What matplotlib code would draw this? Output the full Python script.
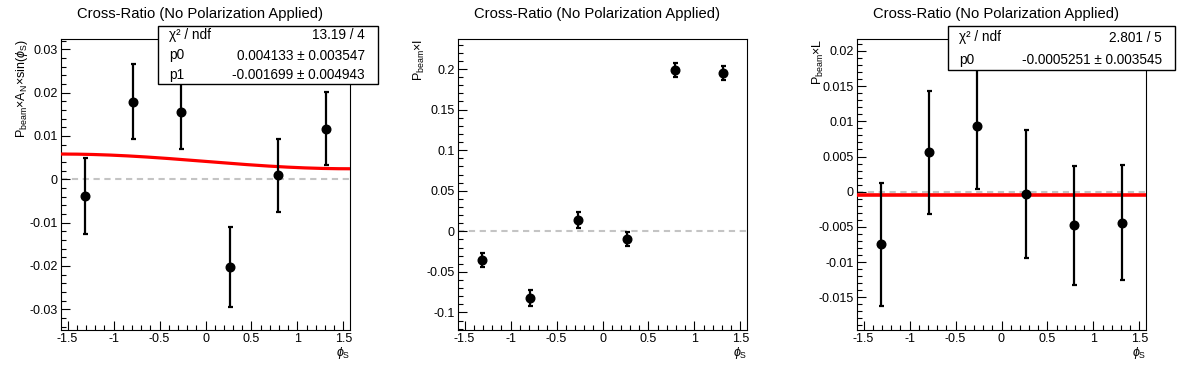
"""Cross-ratio asymmetry panels (no polarization applied), ROOT-style."""
import matplotlib
matplotlib.use("Agg")
import matplotlib.pyplot as plt
import numpy as np
from matplotlib.patches import Rectangle
from matplotlib.ticker import FuncFormatter, MultipleLocator

plt.rcParams["font.family"] = ["Liberation Sans", "DejaVu Sans"]
plt.rcParams["mathtext.fontset"] = "custom"
plt.rcParams["mathtext.rm"] = "Liberation Sans"
plt.rcParams["mathtext.it"] = "Liberation Sans:italic"
plt.rcParams["axes.unicode_minus"] = False

W, H = 1196, 372

# phi_S bin centres (6 bins over -pi/2..pi/2)
phi = [-1.309, -0.785, -0.262, 0.262, 0.785, 1.309]

# panel 1: P_beam x A_N x sin(phi_S)
an_val = [-0.0039, 0.0179, 0.0156, -0.0202, 0.0009, 0.0117]
an_err = [0.0088, 0.0087, 0.0087, 0.0092, 0.0084, 0.0084]
an_fit = [0.004133, -0.001699]  # p0 + p1*sin(phi)
an_stats = [("χ² / ndf", "13.19 / 4"),
            ("p0", "0.004133 ± 0.003547"),
            ("p1", "-0.001699 ± 0.004943")]

# panel 2: P_beam x I
i_val = [-0.0355, -0.0820, 0.0140, -0.0095, 0.1985, 0.1950]
i_err = [0.0090, 0.0095, 0.0100, 0.0090, 0.0088, 0.0090]

# panel 3: P_beam x L
l_val = [-0.0075, 0.0056, 0.0093, -0.0003, -0.0048, -0.0044]
l_err = [0.0088, 0.0087, 0.0089, 0.0091, 0.0084, 0.0082]
l_fit = [-0.0005251]
l_stats = [("χ² / ndf", "2.801 / 5"),
           ("p0", "-0.0005251 ± 0.003545")]

TITLE = "Cross-Ratio (No Polarization Applied)"
XLIM = (-1.5708, 1.5708)


def fx(px):
    return px / W


def fy(py):
    return 1 - py / H


def _fmt(v, pos):
    return "%g" % round(v, 6)


def _panel(fig, left, ylim, ymaj, ymin, ylabel, vals, errs):
    x0, x1, top, bot = left, left + 289, 39, 330
    ax = fig.add_axes([fx(x0), fy(bot), (x1 - x0) / W, (bot - top) / H])
    ax.set_xlim(*XLIM)
    ax.set_ylim(*ylim)
    ax.axhline(0, color="#c4c4c4", lw=1.5, ls=(0, (3, 2.2)), zorder=1)
    ax.errorbar(phi, vals, yerr=errs, fmt="o", color="black", ms=6.2,
                elinewidth=1.6, capsize=1.8, capthick=1.6, zorder=4)
    ax.xaxis.set_major_locator(MultipleLocator(0.5))
    ax.xaxis.set_minor_locator(MultipleLocator(0.1))
    ax.yaxis.set_major_locator(MultipleLocator(ymaj))
    ax.yaxis.set_minor_locator(MultipleLocator(ymin))
    ax.xaxis.set_major_formatter(FuncFormatter(_fmt))
    ax.yaxis.set_major_formatter(FuncFormatter(_fmt))
    ax.tick_params(which="both", direction="in", top=False, right=False,
                   labelsize=9, pad=2.5, width=0.8)
    ax.tick_params(which="major", length=6.5)
    ax.tick_params(which="minor", length=3.3)
    for s in ax.spines.values():
        s.set_linewidth(0.8)
    # title centred over the pad
    fig.text(fx(left - 60 + 199), fy(14), TITLE, ha="center", va="center", fontsize=10.6)
    ax.text(-39 / 289, 1.0, ylabel, rotation=90, ha="center", va="top",
            transform=ax.transAxes, fontsize=9)
    ax.text(1.0, -0.05, r"$\phi_{\rm S}$", ha="right", va="top",
            transform=ax.transAxes, fontsize=9)
    return ax


def _stats(fig, box, rows, row_y):
    bx0, by0, bx1, by1 = box
    fig.add_artist(Rectangle((fx(bx0), fy(by1)), (bx1 - bx0) / W, (by1 - by0) / H,
                             transform=fig.transFigure, facecolor="white",
                             edgecolor="black", lw=1.0, zorder=5))
    for (name, value), y in zip(rows, row_y):
        fig.text(fx(bx0 + 11), fy(y), name, ha="left", va="center", fontsize=9.8, zorder=6)
        fig.text(fx(bx1 - 13), fy(y), value, ha="right", va="center", fontsize=9.8, zorder=6)


fig = plt.figure(figsize=(W / 100, H / 100), dpi=100)

ax1 = _panel(fig, 61, (-0.0348, 0.0324), 0.01, 0.002,
             r"P$_{\rm beam}$×A$_{\rm N}$×sin($\phi_{\rm S}$)", an_val, an_err)
xs = np.linspace(*XLIM, 200)
ax1.plot(xs, an_fit[0] + an_fit[1] * np.sin(xs), color="red", lw=2.3, zorder=3)
_stats(fig, (158, 26, 378, 84), an_stats, [35, 55.5, 75])

ax2 = _panel(fig, 458, (-0.1216, 0.237), 0.05, 0.01,
             r"P$_{\rm beam}$×I", i_val, i_err)

ax3 = _panel(fig, 857, (-0.01965, 0.0217), 0.005, 0.001,
             r"P$_{\rm beam}$×L", l_val, l_err)
ax3.plot(XLIM, [l_fit[0], l_fit[0]], color="red", lw=2.6, zorder=3)
_stats(fig, (948, 26, 1175, 70), l_stats, [37.5, 60])

fig.savefig("out.png", dpi=100)
